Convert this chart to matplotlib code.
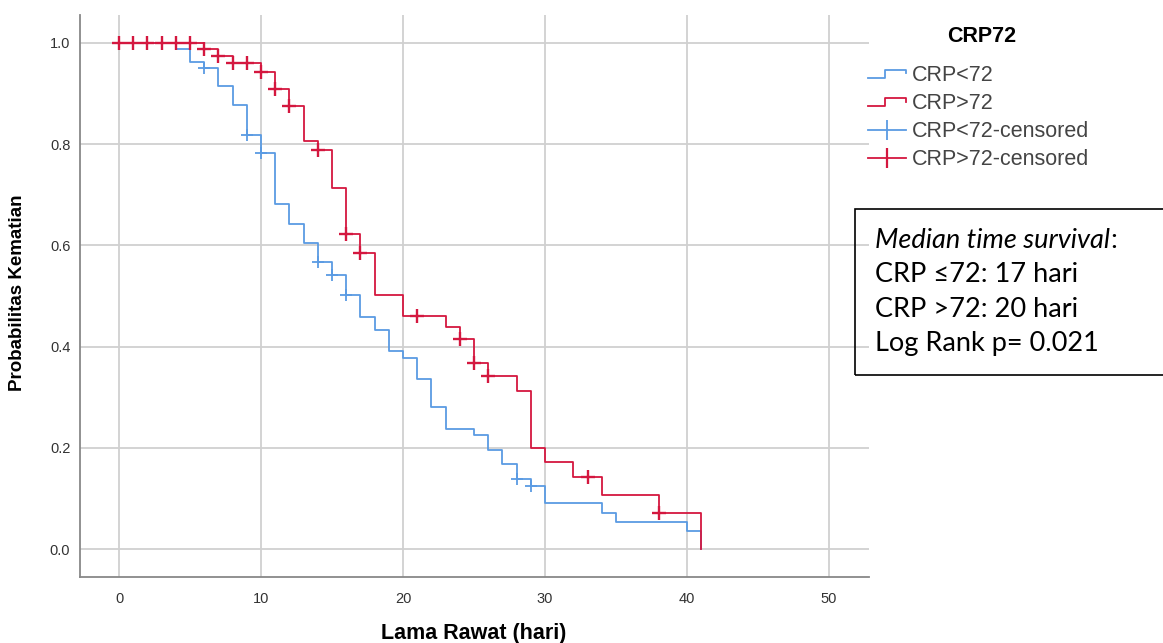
import matplotlib
matplotlib.use('Agg')
import matplotlib.pyplot as plt
from matplotlib.lines import Line2D
from matplotlib.legend_handler import HandlerBase
from matplotlib.patches import Rectangle

# Kaplan-Meier steps (time, survival after event)
low_t = [0, 4, 5, 6, 7, 8, 9, 10, 11, 12, 13, 14, 15, 16, 17, 18, 19, 20, 21, 22, 23,
         25, 26, 27, 28, 29, 30, 34, 35, 40, 41]
low_s = [1.0, 0.988, 0.963, 0.951, 0.915, 0.878, 0.818, 0.782, 0.682, 0.642, 0.604, 0.567,
         0.541, 0.501, 0.459, 0.432, 0.391, 0.377, 0.335, 0.280, 0.238,
         0.225, 0.196, 0.168, 0.139, 0.124, 0.090, 0.072, 0.054, 0.036, 0.0]
low_cens_t = [6, 9, 10, 14, 15, 16, 28, 29]
low_cens_s = [0.951, 0.818, 0.782, 0.567, 0.541, 0.501, 0.139, 0.124]

high_t = [0, 6, 7, 8, 10, 11, 12, 13, 14, 15, 16, 17, 18, 20, 23, 24, 25, 26, 28, 29,
          30, 32, 34, 38, 41]
high_s = [1.0, 0.988, 0.974, 0.960, 0.942, 0.910, 0.875, 0.806, 0.788, 0.714, 0.622, 0.585,
          0.502, 0.460, 0.438, 0.416, 0.367, 0.342, 0.313, 0.200, 0.172, 0.142, 0.107,
          0.072, 0.0]
high_cens_t = [0, 1, 2, 3, 4, 5, 6, 7, 8, 9, 10, 11, 12, 14, 16, 17, 21, 24, 25, 26, 33, 38]
high_cens_s = [1.0, 1.0, 1.0, 1.0, 1.0, 1.0, 0.988, 0.974, 0.960, 0.960, 0.942, 0.910, 0.875,
               0.788, 0.622, 0.585, 0.460, 0.416, 0.367, 0.342, 0.142, 0.072]

labels = ['CRP<72', 'CRP>72', 'CRP<72-censored', 'CRP>72-censored']
box_lines = ['CRP \u226472: 17 hari', 'CRP >72: 20 hari', 'Log Rank p= 0.021']

BLUE = '#5a9be3'
RED = '#d4173f'
GRID = '#d0d0d0'
sans = ['Liberation Sans', 'DejaVu Sans']

W, H = 1163, 643
fig = plt.figure(figsize=(W / 100, H / 100), dpi=100)
ax = fig.add_axes([80 / W, 1 - 577 / H, 789 / W, 562 / H])

ax.step(low_t, low_s, where='post', color=BLUE, lw=1.3, zorder=3)
ax.step(high_t, high_s, where='post', color=RED, lw=1.3, zorder=4)
ax.plot(low_cens_t, low_cens_s, ls='none', marker='+', ms=9, mew=1.3, color=BLUE, zorder=5)
ax.plot(high_cens_t, high_cens_s, ls='none', marker='+', ms=9.5, mew=1.7, color=RED, zorder=6)

ax.set_xlim(-2.75, 52.82)
ax.set_ylim(-0.0553, 1.0553)
ax.set_xticks([0, 10, 20, 30, 40, 50])
ax.set_yticks([0.0, 0.2, 0.4, 0.6, 0.8, 1.0])
ax.set_yticklabels(['0.0', '0.2', '0.4', '0.6', '0.8', '1.0'])
ax.grid(True, color=GRID, lw=1.3, zorder=0)
ax.set_axisbelow(True)
ax.tick_params(length=0, labelsize=10.5, colors='#333333')
ax.tick_params(axis='x', pad=11)
ax.tick_params(axis='y', pad=7)
for lbl in ax.get_xticklabels() + ax.get_yticklabels():
    lbl.set_family(sans)
for side in ['top', 'right']:
    ax.spines[side].set_visible(False)
for side in ['left', 'bottom']:
    ax.spines[side].set_color('#888888')
    ax.spines[side].set_linewidth(1.3)

fig.text(474 / W, 1 - 633 / H, 'Lama Rawat (hari)', ha='center', va='center',
         fontsize=15.5, fontweight='bold', family=sans)
fig.text(18 / W, 1 - 293 / H, 'Probabilitas Kematian', ha='center', va='center',
         rotation=90, fontsize=13.5, fontweight='bold', family=sans)


class StepHandler(HandlerBase):
    def create_artists(self, legend, orig_handle, xd, yd, width, height, fontsize, trans):
        x = [-xd, -xd + 0.45 * width, -xd + 0.45 * width, -xd + width, -xd + width]
        y = [-yd + 0.2 * height, -yd + 0.2 * height, -yd + 0.75 * height,
             -yd + 0.75 * height, -yd + 0.5 * height]
        ln = Line2D(x, y, color=orig_handle.get_color(), lw=1.3, transform=trans)
        return [ln]


handles = [Line2D([], [], color=BLUE), Line2D([], [], color=RED),
           Line2D([0], [0], color=BLUE, lw=1.3, marker='|', ms=15, mew=1.3),
           Line2D([0], [0], color=RED, lw=1.3, marker='|', ms=15, mew=1.6)]
leg = fig.legend(handles, labels, loc='upper left', bbox_to_anchor=(868 / W, 1 - 65 / H),
                 frameon=False, handlelength=1.75, handletextpad=0.3,
                 labelspacing=0.33, borderpad=0, borderaxespad=0,
                 handler_map={handles[0]: StepHandler(), handles[1]: StepHandler()},
                 prop={'family': sans, 'size': 15.5})
for t in leg.get_texts():
    t.set_color('#444444')
fig.text(982 / W, 1 - 37 / H, 'CRP72', ha='center', va='center', fontsize=15.5,
         fontweight='bold', family=sans)

# annotation box
fig.patches.append(Rectangle((855 / W, 1 - 375 / H), 330 / W, 166 / H, transform=fig.transFigure,
                             fill=False, edgecolor='black', lw=1.2))
box_font = ['Lato', 'DejaVu Sans']
fs = 19.5
t0 = fig.text(875 / W, 1 - 241 / H, 'Median time survival', ha='left', va='center',
              fontsize=fs, style='italic', family=box_font)
fig.canvas.draw()
bb = t0.get_window_extent()
fig.text(bb.x1 / W, 1 - 241 / H, ':', ha='left', va='center', fontsize=fs, family=box_font)
for i, line in enumerate(box_lines):
    fig.text(875 / W, 1 - (275 + 34.5 * i) / H, line, ha='left', va='center',
             fontsize=fs, family=box_font)

fig.savefig('out.png', dpi=100)
